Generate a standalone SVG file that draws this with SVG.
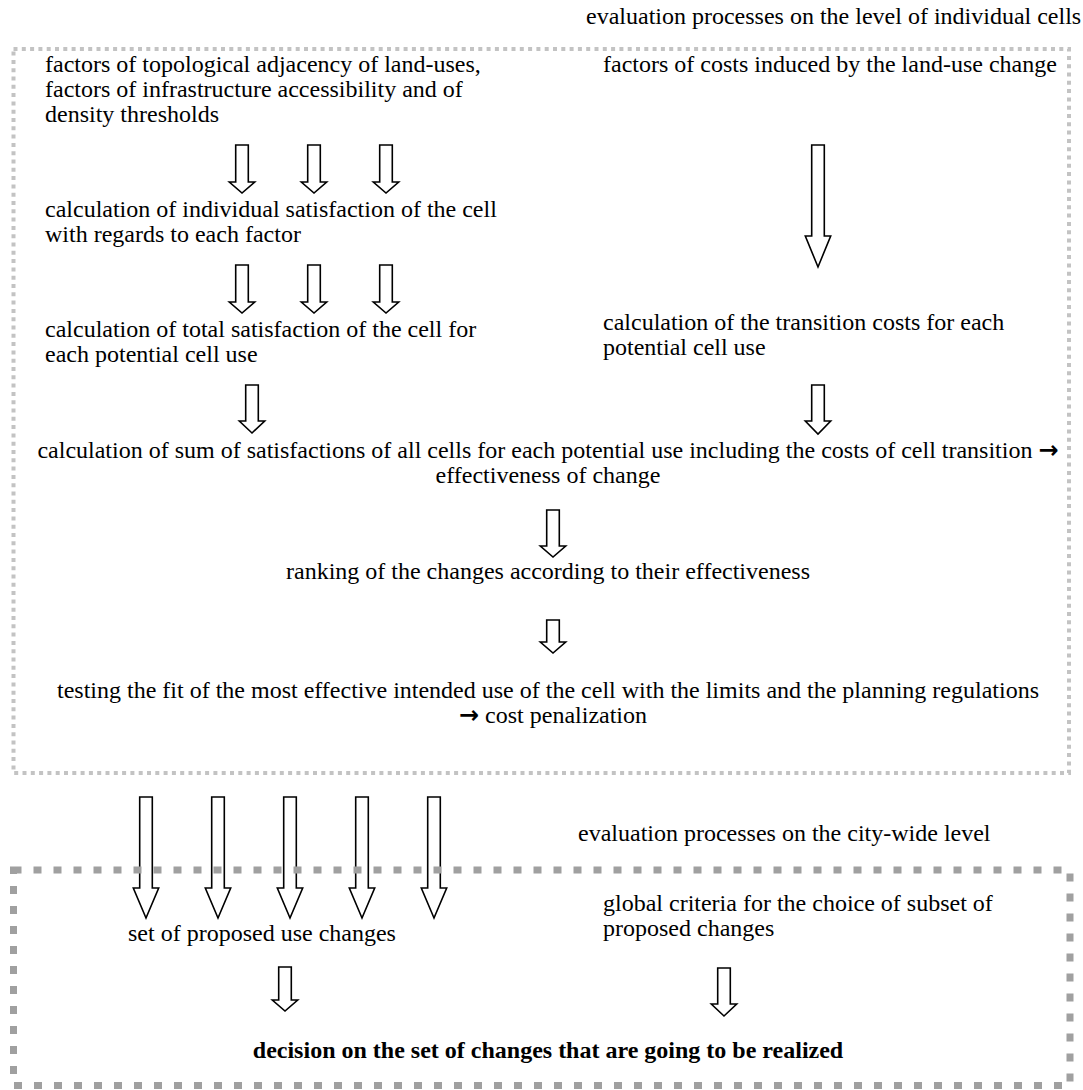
<svg xmlns="http://www.w3.org/2000/svg" width="1083" height="1090" viewBox="0 0 1083 1090">
  <style>
    text { font-family: "Liberation Serif", "Times New Roman", serif; font-size: 24px; fill: #000; }
    .mid { text-anchor: middle; }
    .bold { font-weight: bold; }
    .sym { font-family: "DejaVu Sans", sans-serif; font-weight: bold; font-size: 24px; }
    .arrow { fill: #fff; stroke: #000; stroke-width: 1.6; stroke-linejoin: miter; }
    .frame-cell { fill: none; stroke: #c3c3c3; stroke-width: 4; stroke-dasharray: 4 4.3; }
    .frame-city { fill: none; stroke: #a0a0a0; stroke-width: 7; stroke-dasharray: 8 12; }
  </style>

  <!-- block arrows (hollow down arrows) -->
  <g id="connectors">
    <!-- cell-level factors to individual satisfaction -->
    <path class="arrow" d="M235.7,145 H248.3 V182 H254.7 L242,193 L229.3,182 H235.7 Z"/>
    <path class="arrow" d="M307.7,145 H320.3 V182 H326.7 L314,193 L301.3,182 H307.7 Z"/>
    <path class="arrow" d="M379.7,145 H392.3 V182 H398.7 L386,193 L373.3,182 H379.7 Z"/>
    <!-- individual to total satisfaction -->
    <path class="arrow" d="M235.7,265 H248.3 V302 H254.7 L242,313 L229.3,302 H235.7 Z"/>
    <path class="arrow" d="M307.7,265 H320.3 V302 H326.7 L314,313 L301.3,302 H307.7 Z"/>
    <path class="arrow" d="M379.7,265 H392.3 V302 H398.7 L386,313 L373.3,302 H379.7 Z"/>
    <!-- costs factors to transition costs -->
    <path class="arrow" d="M811.7,145 H824.3 V236 H830.7 L818,267 L805.3,236 H811.7 Z"/>
    <!-- into sum of satisfactions -->
    <path class="arrow" d="M245.7,385 H258.3 V421 H264.7 L252,433 L239.3,421 H245.7 Z"/>
    <path class="arrow" d="M811.7,385 H824.3 V421 H830.7 L818,434 L805.3,421 H811.7 Z"/>
    <!-- to ranking, to testing -->
    <path class="arrow" d="M546.7,510 H559.3 V546 H565.7 L553,557 L540.3,546 H546.7 Z"/>
    <path class="arrow" d="M546.7,620 H559.3 V642 H565.7 L553,653 L540.3,642 H546.7 Z"/>
    <!-- proposed changes passed to city level -->
    <path class="arrow" d="M139.7,797 H152.3 V888 H158.7 L146,918 L133.3,888 H139.7 Z"/>
    <path class="arrow" d="M211.7,797 H224.3 V888 H230.7 L218,918 L205.3,888 H211.7 Z"/>
    <path class="arrow" d="M283.7,797 H296.3 V888 H302.7 L290,918 L277.3,888 H283.7 Z"/>
    <path class="arrow" d="M355.7,797 H368.3 V888 H374.7 L362,918 L349.3,888 H355.7 Z"/>
    <path class="arrow" d="M427.7,797 H440.3 V888 H446.7 L434,918 L421.3,888 H427.7 Z"/>
    <!-- to final decision -->
    <path class="arrow" d="M278.7,967 H291.3 V1000 H297.7 L285,1011 L272.3,1000 H278.7 Z"/>
    <path class="arrow" d="M717.7,968 H730.3 V1004 H736.7 L724,1016 L711.3,1004 H717.7 Z"/>
  </g>

  <!-- dotted frame: evaluation on the level of individual cells -->
  <g id="frame-cells">
    <rect class="frame-cell" x="13.5" y="49" width="1055.5" height="724"/>
    <text x="586" y="24">evaluation processes on the level of individual cells</text>
  </g>

  <!-- dashed frame: evaluation on the city-wide level -->
  <g id="frame-city">
    <rect class="frame-city" x="13.5" y="870" width="1056.5" height="215.5"/>
    <text x="578" y="841">evaluation processes on the city-wide level</text>
  </g>

  <g id="adjacency-factors">
    <text x="45" y="72">factors of topological adjacency of land-uses,</text>
    <text x="45" y="97">factors of infrastructure accessibility and of</text>
    <text x="45" y="122">density thresholds</text>
  </g>

  <g id="cost-factors">
    <text x="603" y="72">factors of costs induced by the land-use change</text>
  </g>

  <g id="individual-satisfaction">
    <text x="45" y="217">calculation of individual satisfaction of the cell</text>
    <text x="45" y="242">with regards to each factor</text>
  </g>

  <g id="total-satisfaction">
    <text x="45" y="337">calculation of total satisfaction of the cell for</text>
    <text x="45" y="362">each potential cell use</text>
  </g>

  <g id="transition-costs">
    <text x="603" y="330">calculation of the transition costs for each</text>
    <text x="603" y="355">potential cell use</text>
  </g>

  <g id="sum-of-satisfactions">
    <text class="mid" x="548" y="458">calculation of sum of satisfactions of all cells for each potential use including the costs of cell transition <tspan class="sym">→</tspan></text>
    <text class="mid" x="548" y="483">effectiveness of change</text>
  </g>

  <g id="ranking">
    <text class="mid" x="548" y="579">ranking of the changes according to their effectiveness</text>
  </g>

  <g id="testing">
    <text class="mid" x="548" y="698">testing the fit of the most effective intended use of the cell with the limits and the planning regulations</text>
    <text class="mid" x="553" y="723"><tspan class="sym">→</tspan> cost penalization</text>
  </g>

  <g id="proposed-changes">
    <text class="mid" x="262" y="941">set of proposed use changes</text>
  </g>

  <g id="global-criteria">
    <text x="603" y="911">global criteria for the choice of subset of</text>
    <text x="603" y="936">proposed changes</text>
  </g>

  <g id="decision">
    <text class="mid bold" x="548" y="1058">decision on the set of changes that are going to be realized</text>
  </g>
</svg>
